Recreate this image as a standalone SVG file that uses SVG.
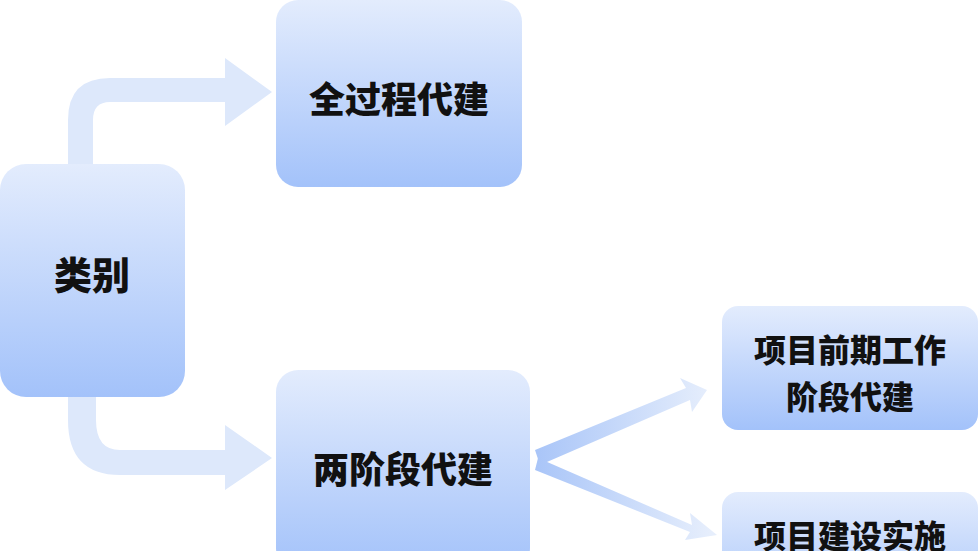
<svg xmlns="http://www.w3.org/2000/svg" width="980" height="551" viewBox="0 0 980 551">
<defs>
<linearGradient id="node" x1="0" y1="0" x2="0" y2="1"><stop offset="0" stop-color="#e3ecfd"/><stop offset="1" stop-color="#a3c2fa"/></linearGradient>
<linearGradient id="d1" gradientUnits="userSpaceOnUse" x1="535" y1="0" x2="710" y2="0"><stop offset="0" stop-color="#a9c5f8"/><stop offset="1" stop-color="#e6eefc"/></linearGradient>
<style>
.n{fill:url(#node)}
.t{font-family:"Noto Sans CJK SC",sans-serif;font-weight:900;fill:#111;text-anchor:middle}
.a{fill:#dde8fb}
</style>
</defs>
<g id="connectors">
<path class="a" d="M68,164 V120 Q68,78 110,78 H225 V58 L272,92 L225,126 V102 H110 Q93,102 93,120 V164 Z"/>
<path class="a" d="M68,397 V420 Q68,475 120,475 H225 V490 L272,458 L225,425 V450 H120 Q96,450 96,420 V397 Z"/>
<path fill="url(#d1)" d="M535,450 L686,388 L680,378 L707,390 L692,412 L690,400 L540,465 Z"/>
<path fill="url(#d1)" d="M538,458 L692,525 L690,513 L717,535 L685,540 L690,532 L535,470 Z"/>
</g>
<g id="n1"><rect class="n" x="0" y="164" width="185" height="233" rx="26"/><text class="t" x="92" y="289" font-size="38">类别</text></g>
<g id="n2"><rect class="n" x="276" y="0" width="246" height="187" rx="22"/><text class="t" x="399" y="113" font-size="36">全过程代建</text></g>
<g id="n3"><rect class="n" x="276" y="370" width="254" height="200" rx="22"/><text class="t" x="403" y="483" font-size="36">两阶段代建</text></g>
<g id="n4"><rect class="n" x="722" y="306" width="256" height="124" rx="16"/><text class="t" x="850" y="362" font-size="32">项目前期工作</text><text class="t" x="850" y="409" font-size="32">阶段代建</text></g>
<g id="n5"><rect class="n" x="722" y="492" width="256" height="124" rx="16"/><text class="t" x="850" y="548" font-size="32">项目建设实施</text></g>
</svg>
